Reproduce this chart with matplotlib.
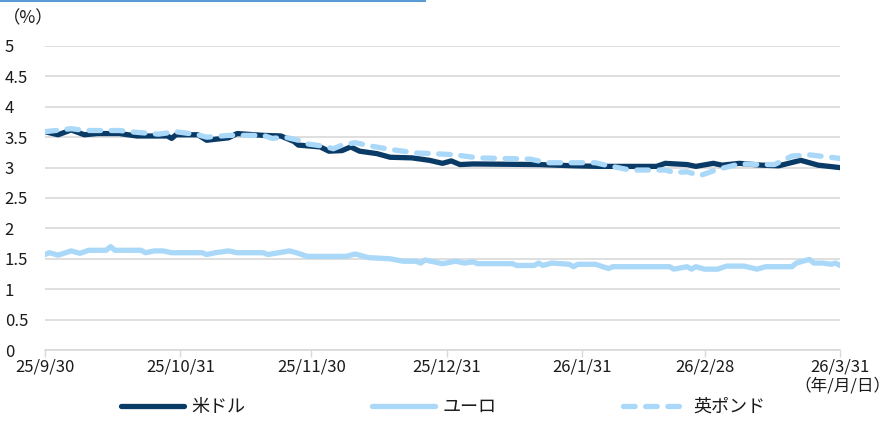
import pandas as pd
import matplotlib
matplotlib.use('Agg')
import matplotlib.pyplot as plt
from matplotlib.lines import Line2D

plt.rcParams['font.family'] = ['Noto Sans CJK JP', 'DejaVu Sans']

# 米ドル
usd_dates = ['2025-09-30', '2025-10-03', '2025-10-06', '2025-10-09', '2025-10-12', '2025-10-17',
             '2025-10-21', '2025-10-28', '2025-10-29', '2025-10-30', '2025-11-04', '2025-11-06',
             '2025-11-11', '2025-11-13', '2025-11-19', '2025-11-23', '2025-11-26', '2025-11-27',
             '2025-12-02', '2025-12-04', '2025-12-07', '2025-12-09', '2025-12-11', '2025-12-15',
             '2025-12-18', '2025-12-23', '2025-12-27', '2025-12-30', '2026-01-01', '2026-01-03',
             '2026-01-06', '2026-01-21', '2026-01-29', '2026-02-04', '2026-02-17', '2026-02-19',
             '2026-02-24', '2026-02-26', '2026-03-02', '2026-03-04', '2026-03-08', '2026-03-13',
             '2026-03-17', '2026-03-22', '2026-03-26', '2026-03-31']
usd_vals = [3.59, 3.54, 3.62, 3.54, 3.56, 3.56,
            3.52, 3.52, 3.48, 3.54, 3.54, 3.45,
            3.49, 3.56, 3.53, 3.52, 3.43, 3.37,
            3.34, 3.27, 3.28, 3.34, 3.27, 3.23,
            3.17, 3.16, 3.12, 3.07, 3.11, 3.05,
            3.06, 3.05, 3.03, 3.02, 3.02, 3.07,
            3.05, 3.02, 3.07, 3.04, 3.07, 3.04,
            3.03, 3.12, 3.04, 3.0]

# ユーロ
eur_dates = ['2025-09-30', '2025-10-01', '2025-10-03', '2025-10-06', '2025-10-08', '2025-10-10',
             '2025-10-14', '2025-10-15', '2025-10-16', '2025-10-22', '2025-10-23', '2025-10-25',
             '2025-10-27', '2025-10-29', '2025-11-05', '2025-11-06', '2025-11-08', '2025-11-11',
             '2025-11-13', '2025-11-19', '2025-11-20', '2025-11-25', '2025-11-27', '2025-11-29',
             '2025-12-08', '2025-12-10', '2025-12-13', '2025-12-18', '2025-12-21', '2025-12-24',
             '2025-12-25', '2025-12-26', '2025-12-30', '2026-01-02', '2026-01-04', '2026-01-06',
             '2026-01-07', '2026-01-15', '2026-01-16', '2026-01-20', '2026-01-21', '2026-01-22',
             '2026-01-24', '2026-01-28', '2026-01-29', '2026-01-30', '2026-02-03', '2026-02-06',
             '2026-02-07', '2026-02-20', '2026-02-21', '2026-02-24', '2026-02-25', '2026-02-26',
             '2026-02-28', '2026-03-03', '2026-03-05', '2026-03-09', '2026-03-12', '2026-03-14',
             '2026-03-20', '2026-03-21', '2026-03-24', '2026-03-25', '2026-03-27', '2026-03-29',
             '2026-03-30', '2026-03-31']
eur_vals = [1.57, 1.60, 1.56, 1.63, 1.59, 1.64,
            1.64, 1.70, 1.64, 1.64, 1.60, 1.63,
            1.63, 1.60, 1.60, 1.57, 1.60, 1.63,
            1.60, 1.60, 1.57, 1.63, 1.59, 1.54,
            1.54, 1.58, 1.52, 1.50, 1.46, 1.46,
            1.43, 1.48, 1.42, 1.46, 1.43, 1.45,
            1.42, 1.42, 1.39, 1.39, 1.43, 1.39,
            1.43, 1.41, 1.37, 1.41, 1.41, 1.34,
            1.37, 1.37, 1.33, 1.37, 1.33, 1.37,
            1.33, 1.33, 1.38, 1.38, 1.33, 1.37,
            1.37, 1.43, 1.49, 1.43, 1.43, 1.41,
            1.43, 1.39]

# 英ポンド
gbp_dates = ['2025-09-30', '2025-10-06', '2025-10-09', '2025-10-17', '2025-10-21', '2025-10-26',
             '2025-10-30', '2025-11-04', '2025-11-06', '2025-11-11', '2025-11-19', '2025-11-21',
             '2025-11-24', '2025-11-27', '2025-11-29', '2025-12-03', '2025-12-05', '2025-12-07',
             '2025-12-10', '2025-12-14', '2025-12-18', '2025-12-24', '2025-12-28', '2026-01-02',
             '2026-01-07', '2026-01-19', '2026-01-23', '2026-02-03', '2026-02-06', '2026-02-11',
             '2026-02-19', '2026-02-21', '2026-02-24', '2026-02-27', '2026-03-03', '2026-03-08',
             '2026-03-13', '2026-03-16', '2026-03-20', '2026-03-24', '2026-03-30', '2026-03-31']
gbp_vals = [3.59, 3.64, 3.61, 3.61, 3.58, 3.55,
            3.59, 3.54, 3.50, 3.53, 3.53, 3.48,
            3.50, 3.45, 3.39, 3.35, 3.31, 3.37,
            3.41, 3.35, 3.30, 3.24, 3.23, 3.21,
            3.16, 3.14, 3.08, 3.08, 3.03, 2.96,
            2.96, 2.92, 2.93, 2.87, 2.97, 3.06,
            3.05, 3.05, 3.19, 3.21, 3.16, 3.15]

series_names = ['米ドル', 'ユーロ', '英ポンド']
tick_dates = ['2025-09-30', '2025-10-31', '2025-11-30', '2025-12-31', '2026-01-31', '2026-02-28', '2026-03-31']
tick_labels = ['25/9/30', '25/10/31', '25/11/30', '25/12/31', '26/1/31', '26/2/28', '26/3/31']
y_ticks = [0, 0.5, 1, 1.5, 2, 2.5, 3, 3.5, 4, 4.5, 5]
y_labels = ['0', '0.5', '1', '1.5', '2', '2.5', '3', '3.5', '4', '4.5', '5']

dark = '#0a3a66'
light = '#a9d8f8'
grid_c = '#d9d9d9'
txt_c = '#1a1a1a'

fig = plt.figure(figsize=(8.91, 4.23), dpi=100)
W, H = 891, 423
ax = fig.add_axes([45 / W, 1 - 350 / H, 795 / W, 304 / H])

lw = 3.8
dash = [2.2, 2.0]
ax.plot(pd.to_datetime(eur_dates), eur_vals, color=light, lw=lw, solid_capstyle='round', solid_joinstyle='round', zorder=3)
ax.plot(pd.to_datetime(usd_dates), usd_vals, color=dark, lw=lw, solid_capstyle='round', solid_joinstyle='round', zorder=4)
ax.plot(pd.to_datetime(gbp_dates), gbp_vals, color=light, lw=lw, dashes=dash,
        dash_capstyle='round', dash_joinstyle='round', zorder=5)

ax.set_xlim(pd.Timestamp('2025-09-30'), pd.Timestamp('2026-03-31'))
ax.set_ylim(0, 5)
ax.set_yticks(y_ticks)
ax.set_yticklabels(y_labels, fontsize=12, color=txt_c)
ax.set_xticks(pd.to_datetime(tick_dates))
ax.set_xticklabels(tick_labels, fontsize=12, color=txt_c)
ax.tick_params(axis='y', length=0, pad=29)
for t in ax.get_yticklabels():
    t.set_ha('left')
ax.tick_params(axis='x', length=5, width=1, color=grid_c, pad=1)
ax.grid(axis='y', color=grid_c, lw=1.2)
ax.set_axisbelow(True)
for s in ['left', 'right', 'top']:
    ax.spines[s].set_visible(False)
ax.spines['bottom'].set_color(grid_c)
ax.spines['bottom'].set_linewidth(1.2)

fig.text(3 / W, 1 - 18 / H, '（%）', fontsize=12.5, ha='left', va='center', color=txt_c)
fig.text(842 / W, 1 - 386 / H, '（年/月/日）', fontsize=12, ha='center', va='center', color=txt_c)

# blue rule at the top
fig.add_artist(Line2D([0, 425 / W], [1 - 1 / H, 1 - 1 / H], color='#5b9bd5', lw=1.5))

handles = [Line2D([], [], color=dark, lw=lw, solid_capstyle='round'),
           Line2D([], [], color=light, lw=lw, solid_capstyle='round'),
           Line2D([], [], color=light, lw=lw, dashes=dash, dash_capstyle='round')]
fig.legend(handles, series_names, loc='center', bbox_to_anchor=(443 / W, 1 - 407 / H), ncol=3,
           frameon=False, fontsize=13, handlelength=3.5, columnspacing=7.0, handletextpad=0.4,
           labelcolor=txt_c)

fig.savefig('out.png', dpi=100)
